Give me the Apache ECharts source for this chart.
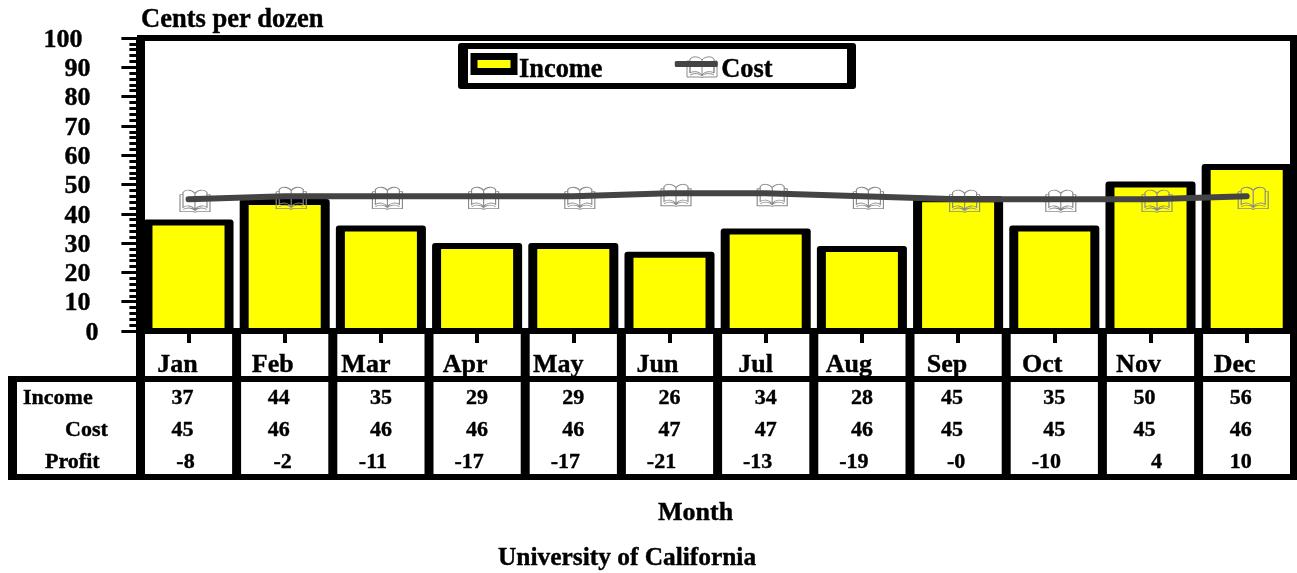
<!DOCTYPE html>
<html>
<head>
<meta charset="utf-8">
<style>
  html, body { margin: 0; padding: 0; background: #fff; }
  #chart { width: 1297px; height: 573px; }
</style>
<script src="https://cdn.jsdelivr.net/npm/echarts@6/dist/echarts.min.js"></script>
</head>
<body>
<div id="chart"></div>
<script>
const months = ['Jan','Feb','Mar','Apr','May','Jun','Jul','Aug','Sep','Oct','Nov','Dec']
const income = [37,44,35,29,29,26,34,28,45,35,50,56]
const cost = [45,46,46,46,46,47,47,46,45,45,45,46]
const profitLabels = ['-8','-2','-11','-17','-17','-21','-13','-19','-0','-10','4','10']
const rowNames = ['Income','Cost','Profit']

// the source table has its cell text slightly off centre, px from the tick
const topRowNudge = [-6,-6,0,0,0,0,0,0,-6,0,-6,-6]
const profitNudge = [-3,-2,-8,-8,-8,-8,-8,-8,-2,-8,6,-6]
const monthNudge = [-11,-12,-15,-12,-15,-12,-10,-13,-11,-12,-12,-12]

const FONT = '"Liberation Serif", "Times New Roman", serif'
const BOOK_PATH = 'M15 4C12 0 5 0 3 3V17C6 15 12 15 15 19C18 15 24 15 27 17V3C25 0 18 0 15 4ZM15 4V19M0 5V21H13Q15 22 17 21H30V5H27V17M0 5H3V17M3 19C7 17 12 17 15 20C18 17 23 17 27 19'
const BOOK = 'path://' + BOOK_PATH
// heavier text, the original is a scaled up bitmap
const HEAVY = { color: '#000', fontFamily: FONT, fontWeight: 'bold', textBorderColor: '#000', textBorderWidth: 0.4 }

echarts.graphic.registerShape('book', echarts.graphic.extendPath(BOOK_PATH, {}))

const chart = echarts.init(document.getElementById('chart'), null, { renderer: 'canvas' })

function renderBar(params, api) {
  const top = api.coord([api.value(0), api.value(1)])
  const base = api.coord([api.value(0), 0])
  const band = api.size([1, 0])[0]
  const half = band * 0.468
  const inner = half - 9
  return {
    type: 'group',
    children: [
      {
        type: 'rect',
        shape: { x: top[0] - half, y: top[1] - 3, width: half * 2, height: base[1] - top[1] + 3, r: 3 },
        style: { fill: '#000' }
      },
      {
        type: 'rect',
        shape: { x: top[0] - inner, y: top[1] + 3, width: inner * 2, height: base[1] - top[1] - 6 },
        style: { fill: '#ffff00' }
      }
    ]
  }
}

function cellText(x, y, text) {
  return {
    type: 'text',
    style: { x: x, y: y, text: text, fill: '#000', stroke: '#000', lineWidth: 0.4, font: 'bold 22px ' + FONT, textAlign: 'center', textVerticalAlign: 'middle' }
  }
}

function renderTableColumn(params, api) {
  const i = params.dataIndex
  const p = api.coord([i, 0])
  const band = api.size([1, 0])[0]
  const right = p[0] + band / 2
  return {
    type: 'group',
    children: [
      { type: 'rect', shape: { x: right - 4.5, y: 331, width: 9, height: 149 }, style: { fill: i === 11 ? 'transparent' : '#000' } },
      cellText(p[0] + topRowNudge[i], 398, String(income[i])),
      cellText(p[0] + topRowNudge[i], 430, String(cost[i])),
      cellText(p[0] + profitNudge[i], 462, profitLabels[i])
    ]
  }
}

function frameRect(x, y, w, h, fill, r) {
  return { type: 'rect', silent: true, z: 5, shape: { x: x, y: y, width: w, height: h, r: r || 0 }, style: { fill: fill || '#000' } }
}

function rowLabel(text, x, y) {
  return { type: 'text', silent: true, z: 5, style: { x: x, y: y, text: text, fill: '#000', stroke: '#000', lineWidth: 0.4, font: 'bold 22px ' + FONT, textVerticalAlign: 'middle' } }
}

chart.setOption({
  animation: false,
  backgroundColor: '#fff',
  title: [
    { text: 'Cents per dozen', left: 141, top: 7, padding: 0, textStyle: { ...HEAVY, fontSize: 26.5 } },
    { text: 'Month', left: 658, top: 500, padding: 0, textStyle: { ...HEAVY, fontSize: 26 } },
    { text: 'University of California', left: 498, top: 546, padding: 0, textStyle: { ...HEAVY, fontSize: 25.4 } }
  ],
  legend: {
    left: 470.5,
    top: 53,
    padding: 0,
    itemWidth: 40,
    itemHeight: 15,
    itemGap: 72,
    z: 7,
    selectedMode: false,
    formatter: '{t|{name}}',
    textStyle: {
      rich: { t: { ...HEAVY, fontSize: 26.4, padding: [12, 0, 0, 0] } }
    },
    data: [
      { name: 'Income', icon: 'rect', itemStyle: { color: '#ffff00', borderColor: '#000', borderWidth: 7 } },
      {
        name: 'Cost',
        icon: 'path://M0 0H40V3H0Z',
        itemStyle: { color: '#444', borderColor: '#444', borderWidth: 3, borderJoin: 'round' }
      }
    ]
  },
  grid: { left: 140.4, right: 2.2, top: 38, bottom: 242, containLabel: false },
  xAxis: {
    type: 'category',
    data: months.map((m, i) => ({
      value: m,
      textStyle: { padding: [0, -monthNudge[i] * 2, 0, 0] }
    })),
    axisLine: { lineStyle: { color: '#000', width: 6, cap: 'butt' } },
    axisTick: { show: true, alignWithLabel: true, length: 12, lineStyle: { color: '#000', width: 4 } },
    axisLabel: { ...HEAVY, fontSize: 26, margin: 21, interval: 0 }
  },
  yAxis: {
    type: 'value',
    min: 0,
    max: 100,
    interval: 10,
    axisLine: { show: true, lineStyle: { color: '#000', width: 9, cap: 'butt' } },
    axisTick: { show: true, length: 19, lineStyle: { color: '#000', width: 3 } },
    minorTick: { show: true, splitNumber: 5, length: 11, lineStyle: { color: '#000', width: 3 } },
    splitLine: { show: false },
    axisLabel: {
      margin: 42,
      formatter: v => v === 100 ? '{wide|100}' : v === 0 ? '{zero|0}' : '{plain|' + v + '}',
      rich: {
        plain: { ...HEAVY, fontSize: 26, padding: [4, 8, 0, 0] },
        wide: { ...HEAVY, fontSize: 26, padding: [4, 16, 0, 0] },
        zero: { ...HEAVY, fontSize: 26, padding: [4, 0, 0, 0] }
      }
    }
  },
  graphic: [
    // plot frame and data table chrome
    frameRect(137, 35, 1160, 6),
    frameRect(1290, 35, 7, 445),
    frameRect(8, 376, 1289, 6),
    frameRect(8, 474, 1289, 6),
    frameRect(8, 376, 9, 104),
    frameRect(136, 331, 9, 149),
    rowLabel(rowNames[0], 23, 398),
    rowLabel(rowNames[1], 65, 430),
    rowLabel(rowNames[2], 45, 462),
    // legend box
    frameRect(458, 43, 398, 46, '#000', 3),
    frameRect(468, 49, 379, 34, '#fff'),
    {
      type: 'book',
      silent: true,
      z: 6,
      x: 687,
      y: 56,
      style: { fill: 'none', stroke: '#8a8a8a', lineWidth: 1 }
    }
  ],
  series: [
    {
      name: 'Income',
      type: 'custom',
      z: 1,
      renderItem: renderBar,
      encode: { x: 0, y: 1 },
      itemStyle: { color: '#ffff00' },
      data: income.map((v, i) => [i, v])
    },
    {
      name: 'table',
      type: 'custom',
      z: 4,
      clip: false,
      renderItem: renderTableColumn,
      encode: { x: 0, y: 1 },
      data: income.map((v, i) => [i, v])
    },
    {
      name: 'Cost books',
      type: 'scatter',
      z: 2,
      symbol: BOOK,
      symbolSize: [30, 22],
      symbolOffset: [6.5, 2],
      itemStyle: { color: 'transparent', borderColor: '#8a8a8a', borderWidth: 1, opacity: 1 },
      data: cost
    },
    {
      name: 'Cost',
      type: 'line',
      z: 3,
      symbol: 'none',
      itemStyle: { color: '#444' },
      lineStyle: { color: '#444', width: 6, cap: 'round' },
      data: cost
    }
  ]
})
</script>
</body>
</html>
